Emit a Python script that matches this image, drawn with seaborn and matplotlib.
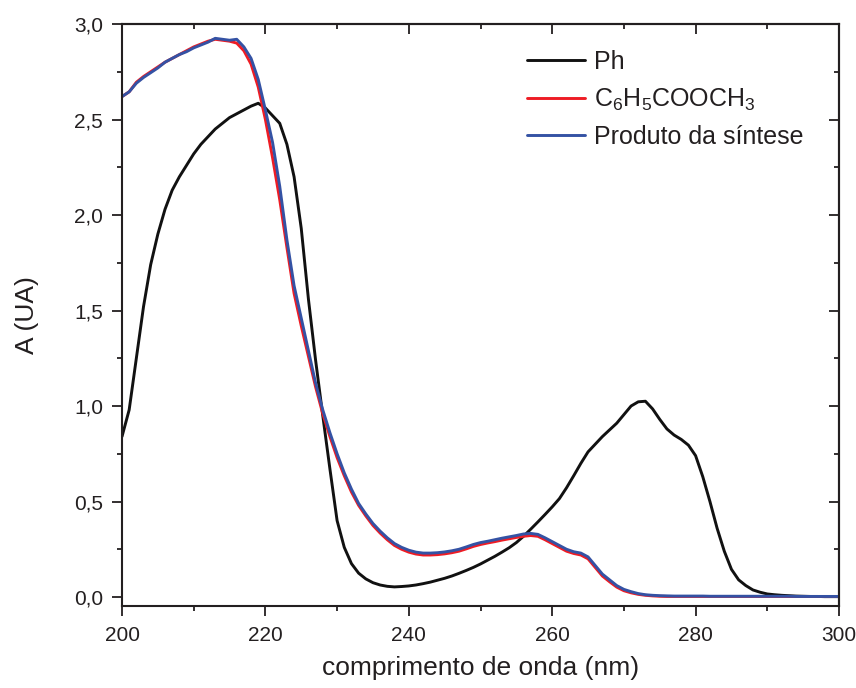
import numpy as np
import pandas as pd
import matplotlib
matplotlib.use("Agg")
import matplotlib.pyplot as plt
from matplotlib.ticker import MultipleLocator, FuncFormatter
import seaborn as sns

wavelength = list(range(200, 301))

ph = [0.84, 0.98, 1.25, 1.52, 1.74, 1.90, 2.03, 2.13, 2.20, 2.26,
      2.32, 2.37, 2.41, 2.45, 2.48, 2.51, 2.53, 2.55, 2.57, 2.585,
      2.56, 2.52, 2.48, 2.37, 2.20, 1.93, 1.56, 1.24, 0.95, 0.67,
      0.40, 0.26, 0.175, 0.125, 0.095, 0.075, 0.063, 0.056, 0.053, 0.055,
      0.058, 0.063, 0.07, 0.078, 0.088, 0.098, 0.11, 0.124, 0.139, 0.155,
      0.173, 0.193, 0.213, 0.235, 0.258, 0.285, 0.318, 0.355, 0.393, 0.432,
      0.472, 0.515, 0.572, 0.635, 0.70, 0.76, 0.80, 0.84, 0.875, 0.91,
      0.955, 1.00, 1.022, 1.025, 0.985, 0.93, 0.88, 0.848, 0.825, 0.795,
      0.74, 0.63, 0.50, 0.36, 0.24, 0.145, 0.09, 0.06, 0.037, 0.025,
      0.016, 0.012, 0.009, 0.007, 0.005, 0.004, 0.003, 0.003, 0.002, 0.002,
      0.002]

metil = [2.62, 2.645, 2.695, 2.725, 2.75, 2.775, 2.80, 2.82, 2.84, 2.86,
         2.88, 2.895, 2.91, 2.92, 2.915, 2.91, 2.90, 2.86, 2.79, 2.67,
         2.50, 2.30, 2.08, 1.83, 1.59, 1.42, 1.26, 1.10, 0.96, 0.84,
         0.73, 0.635, 0.55, 0.48, 0.425, 0.375, 0.335, 0.30, 0.27, 0.25,
         0.235, 0.225, 0.22, 0.22, 0.222, 0.226, 0.232, 0.24, 0.252, 0.265,
         0.275, 0.283, 0.29, 0.298, 0.305, 0.312, 0.318, 0.322, 0.318, 0.30,
         0.28, 0.26, 0.24, 0.228, 0.22, 0.20, 0.155, 0.11, 0.08, 0.052,
         0.033, 0.022, 0.014, 0.009, 0.006, 0.004, 0.003, 0.003, 0.003, 0.003,
         0.003, 0.003, 0.003, 0.003, 0.003, 0.003, 0.003, 0.003, 0.003, 0.003,
         0.003, 0.003, 0.003, 0.003, 0.003, 0.003, 0.003, 0.003, 0.003, 0.003,
         0.003]

produto = [2.62, 2.645, 2.69, 2.72, 2.745, 2.77, 2.80, 2.82, 2.84, 2.855,
           2.875, 2.89, 2.905, 2.925, 2.92, 2.915, 2.92, 2.88, 2.82, 2.71,
           2.55, 2.38, 2.15, 1.87, 1.63, 1.46, 1.29, 1.12, 0.98, 0.86,
           0.75, 0.65, 0.565, 0.49, 0.435, 0.385, 0.345, 0.31, 0.28, 0.26,
           0.245, 0.235, 0.23, 0.23, 0.232, 0.236, 0.242, 0.25, 0.262, 0.275,
           0.285, 0.292, 0.30, 0.308, 0.315, 0.322, 0.33, 0.333, 0.328, 0.31,
           0.29, 0.27, 0.25, 0.237, 0.23, 0.21, 0.165, 0.12, 0.09, 0.06,
           0.04, 0.028, 0.018, 0.012, 0.009, 0.007, 0.006, 0.005, 0.005, 0.005,
           0.005, 0.005, 0.004, 0.004, 0.004, 0.004, 0.004, 0.004, 0.004, 0.004,
           0.004, 0.004, 0.004, 0.004, 0.003, 0.003, 0.003, 0.003, 0.003, 0.003,
           0.003]

labels = ["Ph", r"$\mathregular{C_6H_5COOCH_3}$", "Produto da síntese"]
colors = ["#111111", "#ee1c24", "#3452a4"]

df = pd.concat([
    pd.DataFrame({"x": wavelength, "y": ph, "s": labels[0]}),
    pd.DataFrame({"x": wavelength, "y": metil, "s": labels[1]}),
    pd.DataFrame({"x": wavelength, "y": produto, "s": labels[2]}),
], ignore_index=True)

sns.set_style("ticks")
plt.rcParams["font.family"] = ["Liberation Sans", "DejaVu Sans"]
plt.rcParams["mathtext.default"] = "regular"

fig = plt.figure(figsize=(8.56, 6.88), dpi=100)
ax = fig.add_axes([122/856, 1-606/688, (839-122)/856, (606-24)/688])

sns.lineplot(data=df, x="x", y="y", hue="s", hue_order=labels,
             palette=dict(zip(labels, colors)), linewidth=2.1, ax=ax,
             sort=False, estimator=None)

ax.set_xlim(200, 300)
ax.set_ylim(-0.047, 3.0)
ax.xaxis.set_major_locator(MultipleLocator(20))
ax.xaxis.set_minor_locator(MultipleLocator(10))
ax.yaxis.set_major_locator(MultipleLocator(0.5))
ax.yaxis.set_minor_locator(MultipleLocator(0.25))
ax.yaxis.set_major_formatter(FuncFormatter(lambda v, p: f"{v:.1f}".replace(".", ",")))

txtc = "#231f20"
for s in ax.spines.values():
    s.set_linewidth(1.5)
    s.set_color(txtc)
ax.tick_params(which="both", color=txtc, width=1.3, labelcolor=txtc, labelsize=15)
ax.tick_params(which="major", length=7.5)
ax.tick_params(which="minor", length=3.8)
ax.tick_params(axis="x", which="both", bottom=True, top=False, direction="out", pad=7)
ax.tick_params(axis="y", which="both", left=True, right=False, direction="out", pad=6)

axt = ax.secondary_xaxis("top")
axt.xaxis.set_major_locator(MultipleLocator(20))
axt.xaxis.set_minor_locator(MultipleLocator(10))
axt.tick_params(which="both", direction="in", color=txtc, width=1.3, labeltop=False)
axt.tick_params(which="major", length=7.5)
axt.tick_params(which="minor", length=3.8)
axt.spines["top"].set_linewidth(1.5)
axr = ax.secondary_yaxis("right")
axr.yaxis.set_major_locator(MultipleLocator(0.5))
axr.yaxis.set_minor_locator(MultipleLocator(0.25))
axr.tick_params(which="both", direction="in", color=txtc, width=1.3, labelright=False)
axr.tick_params(which="major", length=7.5)
axr.tick_params(which="minor", length=3.8)
axr.spines["right"].set_linewidth(1.5)

ax.set_xlabel("comprimento de onda (nm)", fontsize=19, color=txtc, labelpad=8)
ax.set_ylabel("A (UA)", fontsize=19, color=txtc, labelpad=25)

handles, lbls = ax.get_legend_handles_labels()
leg = ax.legend(handles, lbls, loc="upper left", bbox_to_anchor=((527-122)/717, (606-50)/582),
                frameon=False, fontsize=18, borderpad=0, borderaxespad=0,
                handlelength=2.3, handletextpad=0.4, labelspacing=0.5)
for t in leg.get_texts():
    t.set_color(txtc)
for l in leg.get_lines():
    l.set_linewidth(2.1)

fig.savefig("out.png", dpi=100)
